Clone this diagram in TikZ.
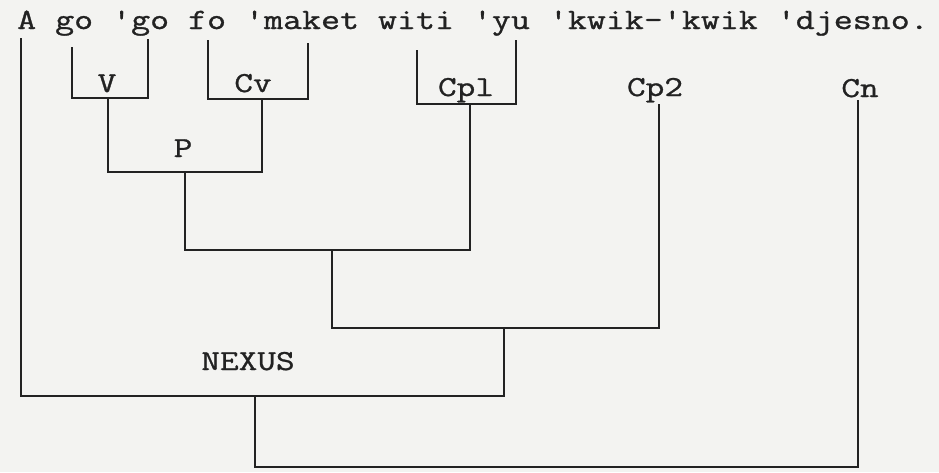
\documentclass[tikz,border=0pt]{standalone}
\usepackage{fontspec}
\newfontfamily\typew[FakeStretch=1.25,FakeBold=1]{Latin Modern Mono}
\definecolor{ink}{HTML}{222222}
\definecolor{paper}{HTML}{F3F3F1}
\begin{document}
\begin{tikzpicture}[x=1pt,y=-1pt,
  lbl/.style={font=\typew\fontsize{29}{34}\selectfont, text=ink, anchor=base, inner sep=0pt},
  tree/.style={draw=ink, line width=1.6pt, line join=miter}]
\fill[paper] (0,0) rectangle (939,472);
\useasboundingbox (0,0) rectangle (939,472);
% sentence
\node[lbl, font=\typew\fontsize{29.5}{36}\selectfont, anchor=base west] (sent) at (17,29) {A go 'go fo 'maket witi 'yu 'kwik-'kwik 'djesno.};
% labels
\node[lbl] (V) at (107,92) {V};
\node[lbl] (Cv) at (253,92) {Cv};
\node[lbl] (P) at (183,157) {P};
\node[lbl] (Cpl) at (466,96) {Cpl};
\node[lbl] (Cp2) at (655,96) {Cp2};
\node[lbl] (Cn) at (860,97) {Cn};
\node[lbl] (NEXUS) at (248,370) {NEXUS};
% coordinates
\coordinate (aT) at (21,38);
\coordinate (aB) at (21,396);
\coordinate (nR) at (504,396);
\coordinate (nT) at (504,328);
\coordinate (v1) at (72,47);
\coordinate (v2) at (72,98);
\coordinate (v3) at (148,98);
\coordinate (v4) at (148,39);
\coordinate (c1) at (208,40);
\coordinate (c2) at (208,99);
\coordinate (c3) at (308,99);
\coordinate (c4) at (308,43);
\coordinate (p1) at (417,50);
\coordinate (p2) at (417,104);
\coordinate (p3) at (516,104);
\coordinate (p4) at (516,40);
\coordinate (vS) at (108,98);
\coordinate (vB) at (108,172);
\coordinate (cB) at (262,172);
\coordinate (cS) at (262,99);
\coordinate (pS) at (185,172);
\coordinate (pB) at (185,250);
\coordinate (qB) at (470,250);
\coordinate (qS) at (470,104);
\coordinate (rS) at (332,250);
\coordinate (rB) at (332,328);
\coordinate (sB) at (659,328);
\coordinate (sT) at (659,104);
\coordinate (xS) at (255,396);
\coordinate (xB) at (255,467);
\coordinate (yB) at (858,467);
\coordinate (yT) at (858,100);
% brackets and tree
\draw[tree] (v1) -- (v2) -- (v3) -- (v4);
\draw[tree] (c1) -- (c2) -- (c3) -- (c4);
\draw[tree] (p1) -- (p2) -- (p3) -- (p4);
\draw[tree] (vS) -- (vB) -- (cB) -- (cS);
\draw[tree] (pS) -- (pB) -- (qB) -- (qS);
\draw[tree] (rS) -- (rB) -- (sB) -- (sT);
\draw[tree] (aT) -- (aB) -- (nR) -- (nT);
\draw[tree] (xS) -- (xB) -- (yB) -- (yT);
\end{tikzpicture}
\end{document}
